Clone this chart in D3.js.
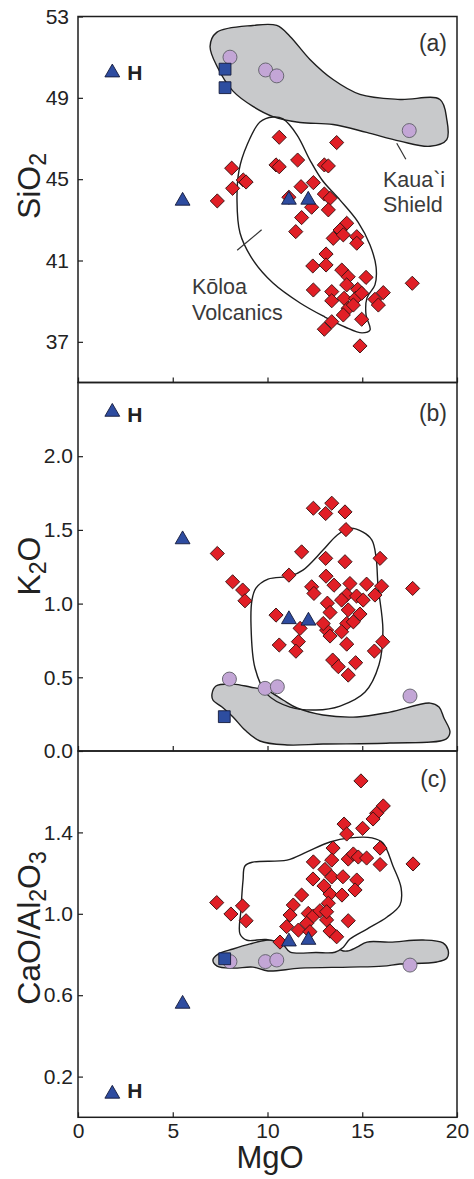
<!DOCTYPE html>
<html><head><meta charset="utf-8">
<script src="https://cdn.jsdelivr.net/npm/d3@7"></script>
<style>body{margin:0;background:#fff}svg{display:block}text{font-family:"Liberation Sans",Arial,sans-serif}</style>
</head><body><svg id="chart" width="474" height="1179"></svg>
<script>
// ---- tick values ----
const xTicks = [0, 5, 10, 15, 20];
const siTicks = [37, 41, 45, 49, 53];
const kTicks = [0.0, 0.5, 1.0, 1.5, 2.0];
const caTicks = [0.2, 0.6, 1.0, 1.4];

// ---- Koloa Volcanics samples (red diamonds): [MgO, value] ----
const koloaSiO2 = [[10.62,47.06],[13.65,46.80],[8.11,45.54],[10.45,45.70],[10.62,45.61],[11.59,45.94],[13.0,45.70],[13.21,45.65],[8.72,44.96],[8.87,44.86],[8.16,44.55],[7.35,43.93],[11.77,44.63],[12.42,44.83],[11.13,44.11],[13.0,44.27],[13.30,44.06],[12.33,43.62],[13.21,43.49],[11.80,43.11],[11.49,42.42],[14.18,42.83],[13.83,42.50],[13.47,42.09],[14.0,42.26],[14.71,42.17],[14.71,41.85],[13.09,41.32],[12.39,40.73],[13.09,40.78],[13.92,40.53],[14.26,40.20],[15.20,40.17],[12.42,39.55],[13.39,39.47],[14.18,39.80],[14.76,39.58],[13.39,39.02],[14.04,39.14],[14.65,39.14],[14.97,39.39],[16.11,39.42],[15.67,39.09],[15.85,38.81],[17.64,39.88],[14.26,38.65],[14.0,38.32],[14.97,38.11],[13.39,37.99],[13.0,37.62],[14.88,36.80],[14.53,38.81]];
const koloaK2O = [[12.42,1.647],[13.39,1.681],[13.07,1.611],[14.09,1.622],[14.14,1.502],[11.80,1.351],[7.35,1.340],[15.94,1.307],[13.07,1.307],[14.09,1.284],[11.13,1.193],[13.09,1.186],[13.51,1.125],[14.35,1.136],[15.23,1.132],[16.02,1.118],[17.66,1.103],[8.16,1.148],[8.69,1.092],[12.33,1.114],[12.45,1.069],[14.18,1.058],[14.70,1.051],[13.91,1.024],[8.81,1.019],[15.67,1.058],[10.45,0.922],[11.72,0.832],[11.63,0.742],[10.62,0.719],[11.50,0.677],[13.16,1.003],[13.30,0.940],[14.88,0.929],[14.18,0.865],[14.53,0.876],[13.91,0.809],[13.12,0.820],[13.30,0.780],[12.94,0.865],[14.18,0.725],[16.08,0.741],[15.64,0.678],[13.44,0.617],[13.74,0.572],[14.65,0.599],[14.26,0.515],[15.05,1.024],[14.26,0.957]];
const koloaCaAl = [[14.93,1.653],[16.11,1.530],[15.76,1.494],[15.57,1.466],[14.04,1.441],[15.02,1.420],[14.18,1.392],[13.46,1.323],[15.94,1.323],[12.42,1.255],[13.39,1.264],[14.26,1.269],[14.53,1.294],[14.79,1.279],[15.23,1.274],[15.94,1.242],[17.68,1.245],[13.03,1.218],[12.40,1.171],[13.39,1.181],[13.98,1.182],[14.71,1.166],[12.98,1.137],[11.80,1.092],[13.30,1.097],[13.93,1.092],[14.62,1.117],[7.32,1.055],[8.68,1.039],[8.07,0.999],[8.87,0.966],[11.36,1.043],[11.19,0.994],[11.01,0.937],[11.63,0.920],[12.15,1.002],[12.42,0.989],[12.07,0.953],[12.24,0.912],[13.12,0.970],[13.30,0.915],[14.26,0.966],[13.65,0.887],[13.21,1.052],[12.77,1.015],[10.66,0.861],[13.12,1.010]];

// ---- other samples ----
const triSiO2 = [[1.81,50.24],[5.52,43.93],[11.13,43.98],[12.15,43.98]];
const triK2O = [[1.81,2.30],[5.52,1.435],[11.13,0.893],[12.16,0.883]];
const triCaAl = [[1.81,0.115],[5.52,0.557],[11.13,0.863],[12.16,0.871]];
const sqSiO2 = [[7.76,50.41],[7.76,49.50]];
const sqK2O = [[7.72,0.233]];
const sqCaAl = [[7.74,0.779]];
const circSiO2 = [[8.02,51.0],[9.9,50.37],[10.49,50.08],[17.48,47.39]];
const circK2O = [[7.99,0.488],[9.87,0.425],[10.52,0.436],[17.52,0.373]];
const circCaAl = [[8.02,0.765],[9.89,0.765],[10.49,0.773],[17.52,0.748]];

// ---- fields: Kaua`i Shield (gray) and Koloa Volcanics (outline) ----
const shieldSiO2 = [[6.97,51.53],[7.32,52.22],[9.23,52.56],[10.49,52.56],[11.19,52.02],[12.24,50.89],[13.46,49.90],[14.88,49.17],[16.99,48.92],[19.10,48.92],[19.46,47.94],[19.46,46.95],[18.58,46.62],[16.99,46.87],[15.23,47.30],[13.46,47.69],[11.72,47.79],[10.29,48.08],[9.23,48.58],[8.18,49.33],[7.34,50.54]];
const fieldSiO2 = [[10.29,48.06],[10.82,47.96],[11.56,47.17],[12.24,45.94],[12.88,44.96],[13.83,43.97],[14.78,42.89],[15.41,41.76],[15.73,40.68],[15.67,39.80],[15.25,39.16],[15.20,38.32],[15.41,37.58],[14.99,37.44],[14.09,37.73],[13.03,38.22],[11.72,38.91],[10.29,39.89],[9.23,41.03],[8.55,42.35],[8.39,43.97],[8.50,45.45],[8.92,46.68],[9.60,47.81]];
const shieldK2O = [[7.07,0.386],[7.28,0.441],[8.18,0.454],[9.08,0.434],[10.03,0.407],[10.82,0.346],[11.56,0.292],[12.93,0.244],[14.72,0.231],[16.46,0.264],[18.58,0.325],[19.05,0.298],[19.31,0.224],[19.63,0.129],[19.42,0.081],[16.46,0.054],[12.93,0.047],[11.03,0.041],[9.60,0.068],[8.81,0.142],[8.18,0.231],[7.60,0.298],[7.12,0.346]];
const fieldK2O = [[9.39,1.105],[10.03,1.166],[11.19,1.186],[11.87,1.227],[12.93,1.363],[13.67,1.464],[14.35,1.512],[15.04,1.485],[15.51,1.431],[15.73,1.315],[15.83,1.125],[16.09,0.820],[15.88,0.583],[15.15,0.400],[13.83,0.305],[12.56,0.278],[11.19,0.298],[9.97,0.386],[9.34,0.563],[9.13,0.854],[9.18,1.024]];
const shieldCaAl = [[7.12,0.773],[7.39,0.802],[8.18,0.827],[9.08,0.852],[9.97,0.871],[10.82,0.876],[11.72,0.866],[12.77,0.866],[13.56,0.852],[13.88,0.822],[14.20,0.817],[14.72,0.836],[15.25,0.861],[16.46,0.861],[18.21,0.871],[19.26,0.857],[19.53,0.822],[19.47,0.783],[18.94,0.763],[16.99,0.753],[16.09,0.743],[14.35,0.738],[11.72,0.733],[10.03,0.719],[9.23,0.738],[8.18,0.733],[7.34,0.743]];
const fieldCaAl = [[8.81,1.235],[9.23,1.254],[11.03,1.264],[12.08,1.304],[13.30,1.353],[14.35,1.373],[15.51,1.373],[16.09,1.348],[16.62,1.235],[17.05,1.127],[16.99,1.043],[16.31,0.984],[15.25,0.925],[14.35,0.876],[14.0,0.836],[13.56,0.811],[12.56,0.810],[11.20,0.812],[10.80,0.850],[9.92,0.874],[8.92,0.870],[8.55,0.901],[8.60,1.019],[8.71,1.166]];

// leader lines (annotation), [MgO, SiO2]
const shieldLeader = [[16.82,46.77],[17.30,45.98]];
const koloaLeader = [[8.40,41.50],[9.69,42.51]];

// ---------------------------------------------------------------
const svg = d3.select("#chart");
svg.append("rect").attr("width",474).attr("height",1179).attr("fill","#fff");
const X0 = 78, X1 = 457;
const x = d3.scaleLinear().domain([0,20]).range([X0,X1]);

const panels = [
  {key:"a", domain:[35,53], range:[382.5,16.5], ticks:siTicks, fmt:d3.format("d"), pad:9,
   red:koloaSiO2, tri:triSiO2, sq:sqSiO2, circ:circSiO2, shield:shieldSiO2, field:fieldSiO2, fieldFill:"none",
   label:"(a)", labelY:51, hDy:7.5},
  {key:"b", domain:[0,2.5], range:[751,382.5], ticks:kTicks, fmt:d3.format(".1f"), pad:5,
   red:koloaK2O, tri:triK2O, sq:sqK2O, circ:circK2O, shield:shieldK2O, field:fieldK2O, fieldFill:"none",
   label:"(b)", labelY:421, hDy:10.5},
  {key:"c", domain:[0,1.8], range:[1117.3,751], ticks:caTicks, fmt:d3.format(".1f"), pad:5,
   red:koloaCaAl, tri:triCaAl, sq:sqCaAl, circ:circCaAl, shield:shieldCaAl, field:fieldCaAl, fieldFill:"#fff",
   label:"(c)", labelY:787, hDy:4.5}
];

const ink = "#1e1e1e";
panels.forEach((p,i) => {
  const y = d3.scaleLinear().domain(p.domain).range(p.range);
  const g = svg.append("g");
  const line = d3.line().x(d=>x(d[0])).y(d=>y(d[1])).curve(d3.curveCatmullRomClosed.alpha(0.5));

  // fields
  g.append("path").attr("d", line(p.shield)).attr("fill","#c8c9cb").attr("stroke",ink).attr("stroke-width",1.4);
  g.append("path").attr("d", line(p.field)).attr("fill",p.fieldFill).attr("stroke",ink).attr("stroke-width",1.4);

  // annotations for panel a
  if (p.key === "a") {
    const l2 = d3.line().x(d=>x(d[0])).y(d=>y(d[1]));
    g.append("path").attr("d", l2(shieldLeader)).attr("stroke","#333").attr("stroke-width",1.2).attr("fill","none");
    g.append("path").attr("d", l2(koloaLeader)).attr("stroke","#333").attr("stroke-width",1.2).attr("fill","none");
    const ann = g.append("g").attr("fill","#3a3a3a").attr("font-size",21.5);
    ann.append("text").attr("x",383).attr("y",187).text("Kaua`i");
    ann.append("text").attr("x",383).attr("y",212).text("Shield");
    ann.append("text").attr("x",192).attr("y",294).text("Kōloa");
    ann.append("text").attr("x",192).attr("y",320).text("Volcanics");
  }

  // symbols
  g.selectAll(".circ").data(p.circ).join("circle")
    .attr("cx",d=>x(d[0])).attr("cy",d=>y(d[1])).attr("r",7)
    .attr("fill","#c3a6d6").attr("stroke","#5e5e66").attr("stroke-width",0.9);
  g.selectAll(".dia").data(p.red).join("path")
    .attr("d", d3.symbol(d3.symbolSquare, 100)())
    .attr("transform", d=>`translate(${x(d[0])},${y(d[1])}) rotate(45)`)
    .attr("fill","#e11f26").attr("stroke","#3a1212").attr("stroke-width",0.9);
  g.selectAll(".sq").data(p.sq).join("path")
    .attr("d", d3.symbol(d3.symbolSquare, 140)())
    .attr("transform", d=>`translate(${x(d[0])},${y(d[1])})`)
    .attr("fill","#2d4da0").attr("stroke","#141a3a").attr("stroke-width",0.9);
  g.selectAll(".tri").data(p.tri).join("path")
    .attr("d", d3.symbol(d3.symbolTriangle, 95)())
    .attr("transform", d=>`translate(${x(d[0])},${y(d[1])})`)
    .attr("fill","#2e4ca0").attr("stroke","#141a3a").attr("stroke-width",0.9);

  // H label next to the first triangle
  g.append("text").attr("x", x(p.tri[0][0]) + 15).attr("y", y(p.tri[0][1]) + p.hDy)
    .attr("font-size",21).attr("font-weight","bold").attr("fill","#222").text("H");

  // panel label
  g.append("text").attr("x",447).attr("y",p.labelY).attr("text-anchor","end")
    .attr("font-size",23).attr("fill","#333").text(p.label);

  // y axis
  const ya = d3.axisLeft(y).tickValues(p.ticks).tickFormat(p.fmt).tickSizeInner(-5).tickSizeOuter(0).tickPadding(p.pad);
  const yg = svg.append("g").attr("transform",`translate(${X0},0)`).call(ya);
  yg.select(".domain").remove();
  yg.selectAll("line").attr("stroke",ink).attr("stroke-width",1.2);
  yg.selectAll("text").attr("font-size",21).attr("fill","#222").attr("font-family",'"Liberation Sans",Arial,sans-serif');

  // x axis (ticks inward)
  const xa = d3.axisBottom(x).tickValues(xTicks).tickSizeInner(-5).tickSizeOuter(0).tickPadding(6)
    .tickFormat(i === 2 ? d3.format("d") : () => "");
  const xg = svg.append("g").attr("transform",`translate(0,${p.range[0]})`).call(xa);
  xg.select(".domain").remove();
  xg.selectAll("line").attr("stroke",ink).attr("stroke-width",1.2);
  xg.selectAll("text").attr("font-size",21).attr("fill","#222").attr("font-family",'"Liberation Sans",Arial,sans-serif');

  // frame
  svg.append("rect").attr("x",X0).attr("y",p.range[1]).attr("width",X1-X0).attr("height",p.range[0]-p.range[1])
    .attr("fill","none").attr("stroke",ink).attr("stroke-width",1.5);
});

// axis titles
const tfs = 32;
function yTitle(cx, cy, parts) {
  const t = svg.append("text").attr("transform",`translate(${cx},${cy}) rotate(-90)`)
    .attr("text-anchor","middle").attr("font-size",tfs).attr("fill","#222");
  let shifted = false;
  parts.forEach(pt => {
    const ts = t.append("tspan").text(pt.t);
    if (pt.sub) { ts.attr("font-size",tfs*0.72).attr("dy", shifted ? 0 : 6); shifted = true; }
    else { if (shifted) { ts.attr("dy",-6); shifted = false; } }
  });
}
yTitle(40, 186, [{t:"SiO"},{t:"2",sub:true}]);
yTitle(40, 566, [{t:"K"},{t:"2",sub:true},{t:"O"}]);
yTitle(40, 928, [{t:"CaO/Al"},{t:"2",sub:true},{t:"O"},{t:"3",sub:true}]);
svg.append("text").attr("x",270).attr("y",1168).attr("text-anchor","middle")
  .attr("font-size",31).attr("fill","#222").text("MgO");
</script>
</body></html>
